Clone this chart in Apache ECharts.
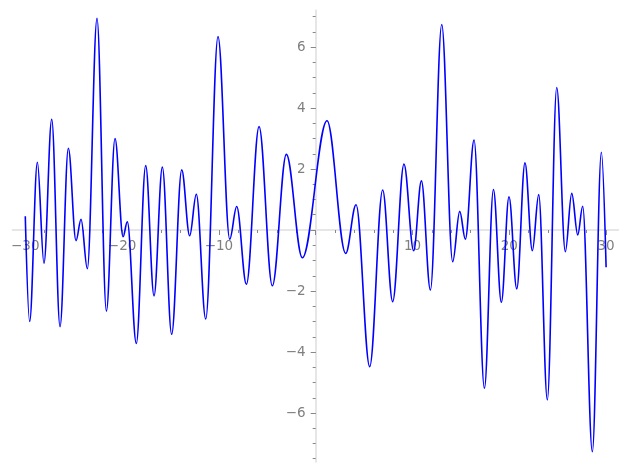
<!DOCTYPE html>
<html>
<head>
<meta charset="utf-8">
<script src="https://cdn.jsdelivr.net/npm/echarts@6/dist/echarts.min.js"></script>
<style>
html,body{margin:0;padding:0;background:#fff;}
#c{width:627px;height:470px;}
</style>
</head>
<body>
<div id="c"></div>
<script>
// Extrema of the curve (x, y), plus the two end points
const xValues = [-30, -29.55, -28.75, -28.07, -27.27, -26.41, -25.55, -24.76, -24.24, -23.59,
  -22.59, -21.62, -20.73, -19.9, -19.46, -18.53, -17.56, -16.7, -15.84, -14.88,
  -13.84, -13.02, -12.33, -11.36, -10.09, -8.88, -8.16, -7.16, -5.85, -4.48,
  -3.03, -1.38, 1.17, 3.1, 4.17, 5.58, 6.92, 7.95, 9.12, 10.12,
  10.92, 11.85, 13.02, 14.15, 14.88, 15.46, 16.36, 17.43, 18.36, 19.18,
  19.97, 20.77, 21.62, 22.38, 23.04, 23.93, 24.9, 25.79, 26.45, 27.07,
  27.58, 28.58, 29.51, 30];
const yValues = [0.45, -3.0, 2.22, -1.09, 3.63, -3.17, 2.68, -0.35, 0.35, -1.27,
  6.94, -2.66, 3.0, -0.22, 0.27, -3.72, 2.11, -2.16, 2.06, -3.42,
  1.97, -0.19, 1.17, -2.92, 6.34, -0.30, 0.77, -1.78, 3.39, -1.83,
  2.48, -0.91, 3.58, -0.77, 0.83, -4.48, 1.31, -2.35, 2.16, -0.68,
  1.61, -1.97, 6.74, -1.04, 0.61, -0.30, 2.95, -5.19, 1.33, -2.37,
  1.09, -1.93, 2.2, -0.68, 1.16, -5.57, 4.67, -0.71, 1.2, -0.16,
  0.78, -7.27, 2.55, -1.22];

const xTickLabels = [-30, -20, -10, 10, 20, 30];
const xMajorTicks = [-30, -20, -10, 0, 10, 20, 30];
const xMinorTicks = [-30, -28, -26, -24, -22, -20, -18, -16, -14, -12, -10, -8, -6, -4, -2, 0,
  2, 4, 6, 8, 10, 12, 14, 16, 18, 20, 22, 24, 26, 28, 30];
const yTickLabels = [-6, -4, -2, 2, 4, 6];
const yMajorTicks = [-6, -4, -2, 0, 2, 4, 6];
const yMinorTicks = [-7.5, -7, -6.5, -6, -5.5, -5, -4.5, -4, -3.5, -3, -2.5, -2, -1.5, -1, -0.5, 0,
  0.5, 1, 1.5, 2, 2.5, 3, 3.5, 4, 4.5, 5, 5.5, 6, 6.5, 7];

const X_MIN = -31.3, X_MAX = 31.25, Y_MIN = -7.6, Y_MAX = 7.2;

// grid geometry (pixels)
const G_LEFT = 12.7, G_TOP = 10.4, G_W = 605.5, G_H = 451.4;
// the axes cross at (0,0): shift each axis from the grid edge to the zero line
const zeroXpx = G_LEFT + (0 - X_MIN) / (X_MAX - X_MIN) * G_W;
const zeroYpx = G_TOP + (Y_MAX - 0) / (Y_MAX - Y_MIN) * G_H;
const xAxisOffset = -((G_TOP + G_H) - zeroYpx);
const yAxisOffset = -(zeroXpx - G_LEFT);

const fmt = v => v < 0 ? '\u2212' + Math.abs(v) : String(v);
const lineCol = '#e6e6e6', tickCol = '#888888', labelCol = '#7f7f7f';
const font = 'DejaVu Sans';

const chart = echarts.init(document.getElementById('c'), null, {renderer: 'canvas'});
chart.setOption({
  animation: false,
  backgroundColor: '#ffffff',
  grid: {left: G_LEFT, top: G_TOP, width: G_W, height: G_H, containLabel: false, outerBoundsMode: 'none'},
  xAxis: [
    {
      type: 'value', min: X_MIN, max: X_MAX, position: 'bottom', offset: xAxisOffset,
      axisLine: {show: true, onZero: false, lineStyle: {color: lineCol, width: 2}},
      axisTick: {show: true, customValues: xMinorTicks, length: 3, lineStyle: {color: tickCol, width: 1}},
      axisLabel: {show: true, customValues: xTickLabels, formatter: fmt, color: labelCol,
        fontSize: 13.5, fontFamily: font, margin: 9.5},
      splitLine: {show: false}
    },
    {
      type: 'value', min: X_MIN, max: X_MAX, position: 'bottom', offset: xAxisOffset,
      axisLine: {show: false, onZero: false},
      axisTick: {show: true, customValues: xMajorTicks, length: 5, lineStyle: {color: tickCol, width: 1}},
      axisLabel: {show: false},
      splitLine: {show: false}
    }
  ],
  yAxis: [
    {
      type: 'value', min: Y_MIN, max: Y_MAX, position: 'left', offset: yAxisOffset,
      axisLine: {show: true, onZero: false, lineStyle: {color: lineCol, width: 2}},
      axisTick: {show: true, customValues: yMinorTicks, length: 3, lineStyle: {color: tickCol, width: 1}},
      axisLabel: {show: true, customValues: yTickLabels, formatter: fmt, color: labelCol,
        fontSize: 13.5, fontFamily: font, margin: 10},
      splitLine: {show: false}
    },
    {
      type: 'value', min: Y_MIN, max: Y_MAX, position: 'left', offset: yAxisOffset,
      axisLine: {show: false, onZero: false},
      axisTick: {show: true, customValues: yMajorTicks, length: 5, lineStyle: {color: tickCol, width: 1}},
      axisLabel: {show: false},
      splitLine: {show: false}
    }
  ],
  series: [{
    type: 'line',
    xAxisIndex: 0, yAxisIndex: 0,
    data: xValues.map((x, i) => [x, yValues[i]]),
    showSymbol: false,
    smooth: 0.36,
    smoothMonotone: 'x',
    lineStyle: {color: '#0000ff', width: 1.6},
    clip: false,
    z: 5
  }]
});
</script>
</body>
</html>
